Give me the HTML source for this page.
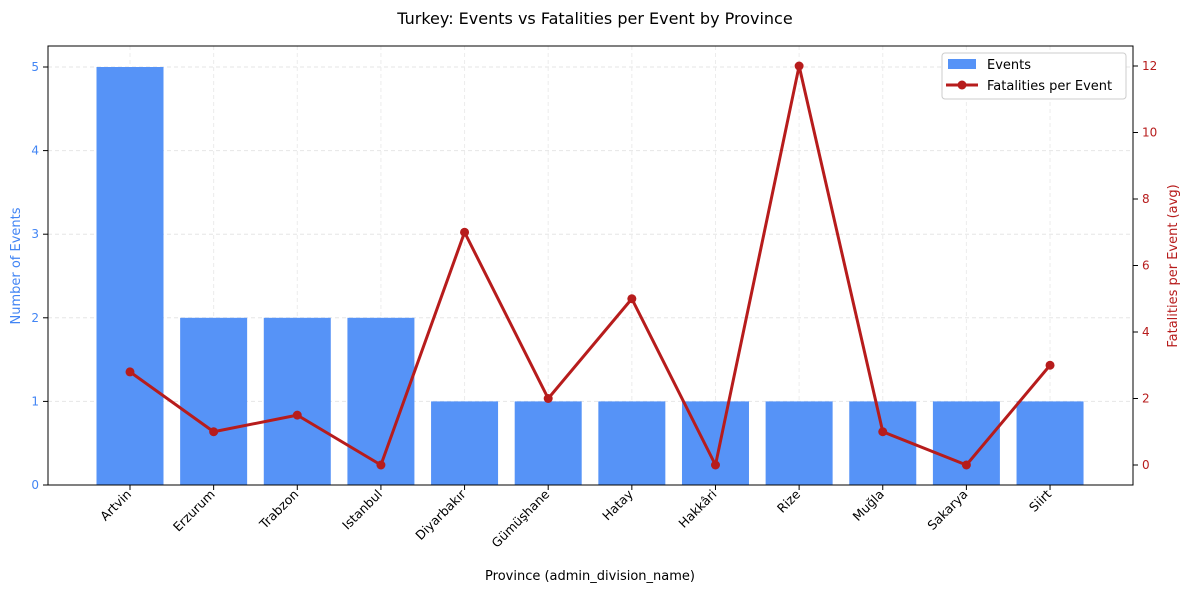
<!DOCTYPE html>
<html><head><meta charset="utf-8"><style>
body{margin:0;background:#fff;font-family:"Liberation Sans","DejaVu Sans",sans-serif}
svg text{font-family:"DejaVu Sans","Liberation Sans",sans-serif}
</style></head><body>
<svg id="chart" width="1189" height="593" viewBox="0 0 1189 593" xmlns="http://www.w3.org/2000/svg">
<text x="595" y="24" text-anchor="middle" font-size="16" fill="#000">Turkey: Events vs Fatalities per Event by Province</text>
<g id="grid"></g><g id="bars"></g><g id="line"></g><g id="axes"></g>
<rect x="48" y="46" width="1085" height="439" fill="none" stroke="#000" stroke-width="1"/>
<text x="590" y="580" text-anchor="middle" font-size="13">Province (admin_division_name)</text>
<text transform="translate(20,266) rotate(-90)" text-anchor="middle" font-size="13" fill="#4285f4">Number of Events</text>
<text transform="translate(1177,266) rotate(-90)" text-anchor="middle" font-size="13" fill="#b71c1c">Fatalities per Event (avg)</text>
<g>
<rect x="942" y="53" width="184" height="46" fill="#fff" stroke="#ccc" rx="3"/>
<rect x="948" y="59" width="28" height="10" fill="#5693f7"/>
<text x="987" y="69" font-size="13">Events</text>
<line x1="946" y1="85" x2="978" y2="85" stroke="#b71c1c" stroke-width="3"/>
<circle cx="962" cy="85" r="4.5" fill="#b71c1c"/>
<text x="987" y="90" font-size="13">Fatalities per Event</text>
</g>
</svg>
<script>
const categories=["Artvin","Erzurum","Trabzon","Istanbul","Diyarbakır","Gümüşhane","Hatay","Hakkâri","Rize","Muğla","Sakarya","Siirt"];
const events=[5,2,2,2,1,1,1,1,1,1,1,1];
const fatalities=[2.8,1,1.5,0,7,2,5,0,12,1,0,3];
const leftTicks=[0,1,2,3,4,5];
const rightTicks=[0,2,4,6,8,10,12];
const NS="http://www.w3.org/2000/svg";
const X=i=>130+83.64*i;
const YL=v=>485-83.6*v;
const YR=v=>465-33.25*v;
function mk(p,t,a){const e=document.createElementNS(NS,t);for(const k in a)e.setAttribute(k,a[k]);p.appendChild(e);return e;}
const grid=document.getElementById('grid'),bars=document.getElementById('bars'),line=document.getElementById('line'),axes=document.getElementById('axes');
leftTicks.forEach(v=>{
 const g=mk(grid,'line',{x1:48,x2:1133,y1:YL(v),y2:YL(v),stroke:'#e6e6e6','stroke-dasharray':'4,3'});
 
 
 mk(axes,'line',{x1:43,x2:48,y1:YL(v),y2:YL(v),stroke:'#000'});
 const t=mk(axes,'text',{x:39,y:YL(v)+4,'text-anchor':'end','font-size':12,fill:'#4285f4'});t.textContent=v;
 
 
});
rightTicks.forEach(v=>{
 mk(axes,'line',{x1:1133,x2:1138,y1:YR(v),y2:YR(v),stroke:'#000'});
 const t=mk(axes,'text',{x:1142,y:YR(v)+4,'font-size':12,fill:'#b71c1c'});t.textContent=v;
 
 
});
categories.forEach((c,i)=>{
 const g=mk(grid,'line',{x1:X(i),x2:X(i),y1:46,y2:485,stroke:'#ececec','stroke-dasharray':'4,3'});
 
 
 const b=mk(bars,'rect',{x:X(i)-33.5,y:YL(events[i]),width:67,height:YL(0)-YL(events[i]),fill:'#5693f7'});
 
 
 mk(axes,'line',{x1:X(i),x2:X(i),y1:485,y2:490,stroke:'#000'});
 const t=mk(axes,'text',{transform:`translate(${X(i)+2},${495}) rotate(-45)`,'text-anchor':'end','font-size':12.5});t.textContent=c;
 
 
});
const pl=mk(line,'polyline',{points:fatalities.map((v,i)=>X(i)+','+YR(v)).join(' '),fill:'none',stroke:'#b71c1c','stroke-width':3,'stroke-linejoin':'round'});


fatalities.forEach((v,i)=>{
 const c=mk(line,'circle',{cx:X(i),cy:YR(v),r:4.5,fill:'#b71c1c'});
 
 
});
</script>
</body></html>
